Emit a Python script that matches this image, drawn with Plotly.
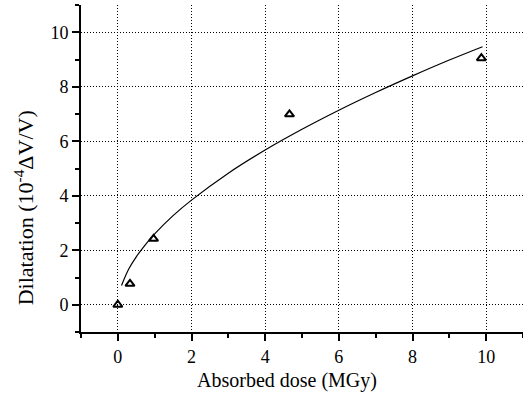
import plotly.graph_objects as go

# measured data points (triangles)
dose = [0.0, 0.33, 0.97, 4.66, 9.87]
dilatation = [0.0, 0.77, 2.42, 6.99, 9.05]

# fitted curve
curve_x = [0.1, 0.3, 0.5, 0.75, 1, 1.5, 2, 3, 4, 5, 6, 7, 8, 9, 9.9]
curve_y = [0.71, 1.32, 1.76, 2.21, 2.6, 3.27, 3.84, 4.83, 5.68, 6.44, 7.14, 7.79, 8.40, 8.98, 9.47]

x_ticks = [0, 2, 4, 6, 8, 10]
y_ticks = [0, 2, 4, 6, 8, 10]
minor_ticks = [-1, 1, 3, 5, 7, 9, 11]

x_title = "Absorbed dose (MGy)"
y_title = "Dilatation (10<sup>-4</sup>ΔV/V)"

font = "Liberation Serif"

fig = go.Figure()
fig.add_trace(go.Scatter(x=curve_x, y=curve_y, mode="lines",
                         line=dict(color="black", width=1.2, shape="spline"),
                         showlegend=False))
fig.add_trace(go.Scatter(x=dose, y=dilatation, mode="markers",
                         marker=dict(symbol="triangle-up-open", size=8, color="black",
                                     line=dict(width=2, color="black")),
                         showlegend=False))

axis_common = dict(
    showline=True, linecolor="black", linewidth=2,
    ticks="outside", ticklen=7, tickwidth=1.5, tickcolor="black",
    showgrid=True, gridcolor="black", gridwidth=1, griddash="1px,2px",
    zeroline=False,
    tickfont=dict(family=font, size=18, color="black"),
    mirror=False,
)

fig.update_xaxes(range=[-1, 11], tickvals=x_ticks,
                 minor=dict(tickvals=minor_ticks, ticklen=4, tickwidth=1.5,
                            tickcolor="black", ticks="outside", showgrid=False),
                 **axis_common)
fig.update_yaxes(range=[-1, 11], tickvals=y_ticks,
                 minor=dict(tickvals=minor_ticks, ticklen=4, tickwidth=1.5,
                            tickcolor="black", ticks="outside", showgrid=False),
                 **axis_common)

fig.add_annotation(text=x_title, xref="paper", yref="paper", x=0.467, y=-0.147,
                   xanchor="center", yanchor="middle", showarrow=False,
                   font=dict(family=font, size=20, color="black"))
fig.add_annotation(text=y_title, xref="paper", yref="paper", x=-0.13, y=0.38,
                   xanchor="center", yanchor="middle", showarrow=False, textangle=-90,
                   font=dict(family=font, size=22, color="black"))

fig.update_layout(
    width=523, height=394,
    margin=dict(l=81, r=0, t=5, b=62),
    paper_bgcolor="white", plot_bgcolor="white",
)

fig.write_html("out.html", config={"displayModeBar": False},
               post_script="document.body.style.margin='0';")
